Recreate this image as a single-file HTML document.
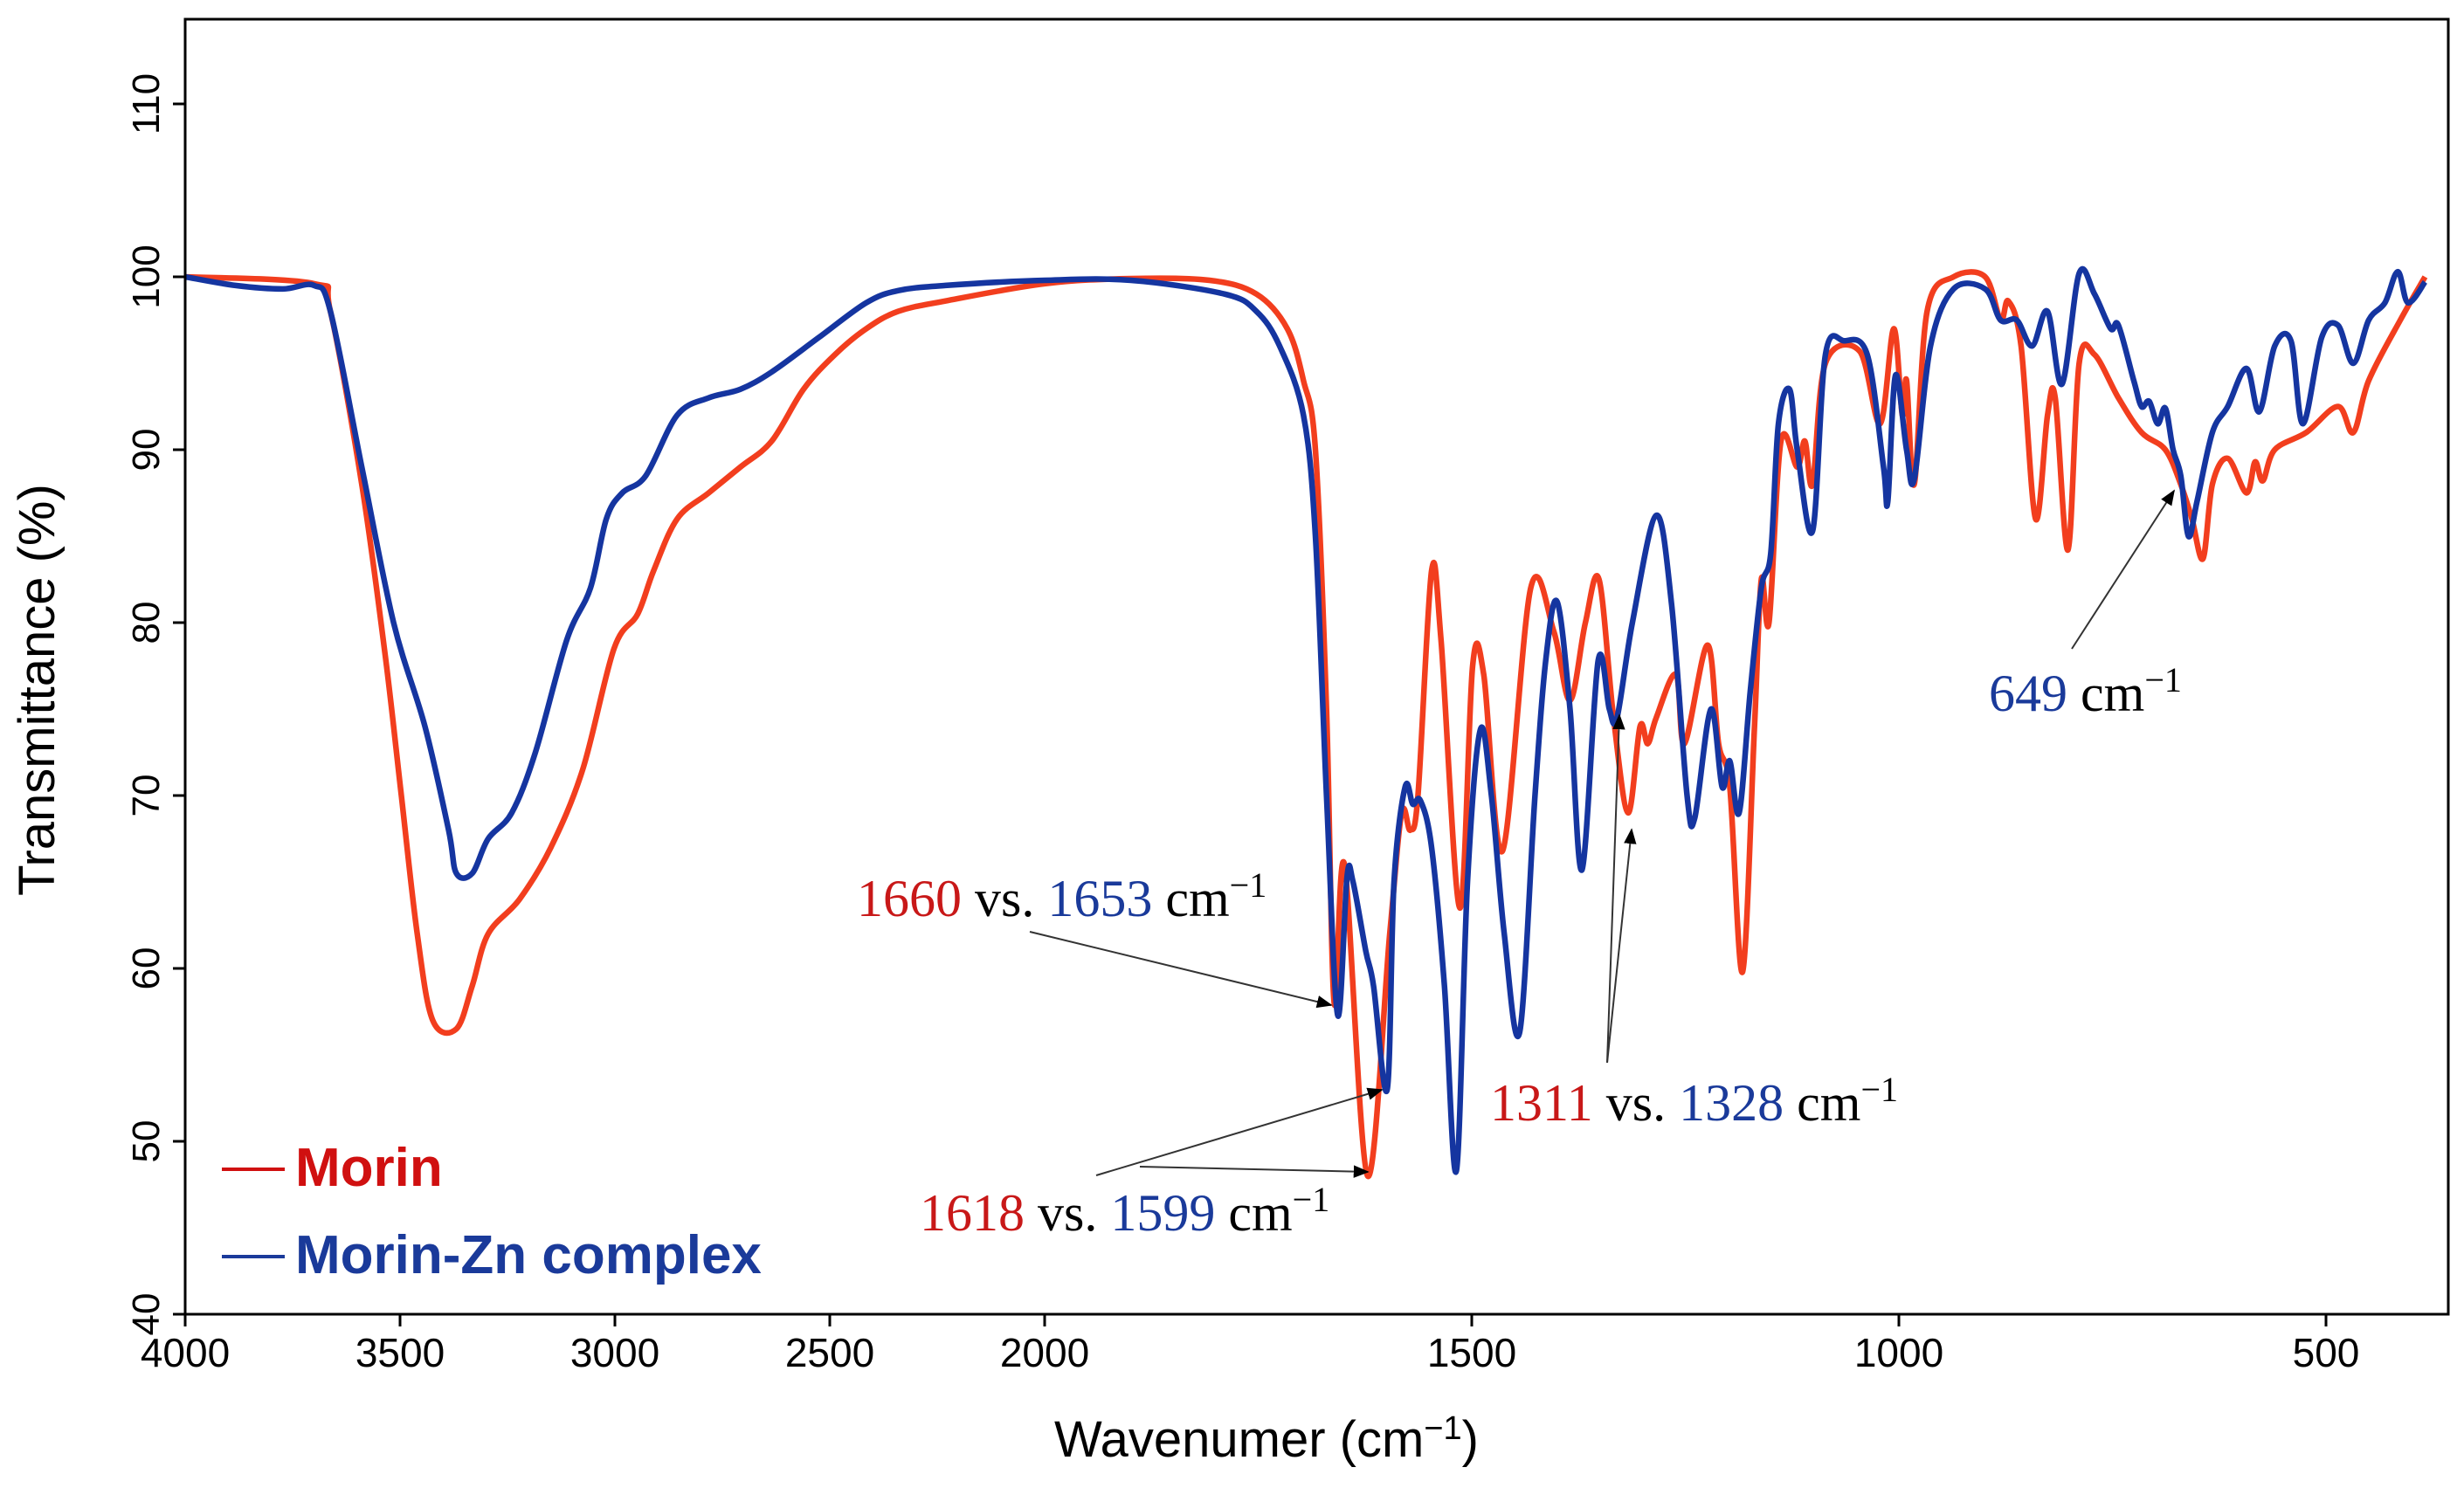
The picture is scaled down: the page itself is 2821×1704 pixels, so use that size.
<!DOCTYPE html>
<html><head><meta charset="utf-8"><style>
html,body{margin:0;padding:0;background:#fff;}
svg{display:block;}
</style></head><body>
<svg id="chart" width="2821" height="1704" xmlns="http://www.w3.org/2000/svg">
<g id="plot"></g>
</svg>
<script>
const xTicks=[4000,3500,3000,2500,2000,1500,1000,500];
const yTicks=[40,50,60,70,80,90,100,110];
const morinWn=[4000,3700,3662,3589,3534,3497,3460,3424,3369,3332,3295,3222,3149,3075,3002,2947,2910,2855,2782,2708,2635,2561,2488,2415,2341,2231,2000,1899,1807,1752,1716,1697,1683,1670,1661,1649,1622,1596,1582,1572,1563,1547,1536,1514,1499,1486,1464,1431,1404,1385,1367,1351,1334,1317,1303,1294,1284,1261,1251,1224,1211,1198,1183,1169,1161,1152,1138,1119,1110,1101,1086,1046,1022,1006,996,991,982,967,936,899,881,872,857,840,826,817,802,789,771,743,716,688,670,657,644,633,615,593,583,574,560,523,486,468,450,413,384];
const morinT=[100,99.6,98,88,78,70,62,57,56.5,59,62,64,67,71.5,78.5,80.5,83,86,87.5,89,90.5,93.5,95.5,97,98,98.6,99.6,99.9,99.8,99,97,94,90,75,58,66,48,62,69,68,70,83,79,63.5,77.5,77,66.8,82,79.5,75.5,80,82.5,74.5,69,74,73,74.5,77,73,78.7,73,70.5,59.8,74,82.5,80,90.5,89,90.5,88,95,95.7,91.5,97,92,94,88,98,100,100,97.5,98.6,96,86,92,93,84.2,95,95.5,93,91,90,88,86,83.7,88,89.5,87.5,89.3,88.2,90,91,92.5,91,94,97.5,100];
const znWn=[4000,3883,3773,3700,3662,3589,3515,3442,3387,3369,3332,3295,3240,3185,3112,3057,3020,2983,2928,2855,2782,2708,2635,2525,2415,2341,2231,2000,1899,1789,1752,1725,1697,1683,1670,1657,1646,1639,1624,1615,1599,1591,1578,1569,1560,1547,1532,1518,1505,1490,1477,1462,1444,1426,1413,1400,1385,1371,1352,1339,1330,1312,1284,1266,1248,1239,1220,1207,1198,1187,1174,1161,1150,1141,1128,1119,1101,1086,1064,1037,1018,1013,1004,991,982,963,936,899,881,862,844,826,809,789,771,752,743,725,716,707,697,688,679,670,661,651,633,615,593,578,560,541,527,505,486,468,450,431,416,404,384];
const znT=[100,99.5,99.3,99.5,98,89,80,74,68,65.5,65.5,67.5,69,72.5,79,82,86,87.5,88.5,92,93,93.5,94.5,96.5,98.5,99.2,99.5,99.8,99.8,99,98,96,92,85,70,57.3,65.3,65,61,59,53,65,70.5,69.5,69.7,67,59,48.3,65,73.8,70,62,56.3,70,78,81.2,75,65.7,77.8,75,74.5,80,86.2,81,70,68.7,75,70.5,72,69,76,82,84,91.5,93.5,90,85.3,95.5,96.3,95.5,89,87,94.3,90,88.3,96,99.3,99.3,97.5,97.5,96,98,93.8,100.2,99,97,97.2,94,92.5,92.8,91.5,92.4,90,88.5,85,87,91,92.5,94.7,92.2,96,96.3,91.5,96.5,97.2,95,97.5,98.5,100.3,98.5,99.7];

const L=212,R=2803,T=22,B=1505;
function xs(w){return w>=2000?212+(4000-w)*0.492:1196+(2000-w)*0.978;}
function ys(v){return 1505-(v-40)*19.8;}
const NS='http://www.w3.org/2000/svg';
const g=document.getElementById('plot');
function mk(tag,attrs){const e=document.createElementNS(NS,tag);for(const k in attrs)e.setAttribute(k,attrs[k]);g.appendChild(e);return e;}

function series(wn,vals,color,name){
  const p=wn.map((w,i)=>[xs(w),ys(vals[i])]);
  let d='M'+p[0][0].toFixed(1)+','+p[0][1].toFixed(1);
  for(let i=0;i<p.length-1;i++){
    const p0=p[Math.max(0,i-1)],p1=p[i],p2=p[i+1],p3=p[Math.min(p.length-1,i+2)];
    const c1=[p1[0]+(p2[0]-p0[0])/6,p1[1]+(p2[1]-p0[1])/6];
    const c2=[p2[0]-(p3[0]-p1[0])/6,p2[1]-(p3[1]-p1[1])/6];
    d+=' C'+c1[0].toFixed(1)+','+c1[1].toFixed(1)+' '+c2[0].toFixed(1)+','+c2[1].toFixed(1)+' '+p2[0].toFixed(1)+','+p2[1].toFixed(1);
  }
  const e=mk('path',{d:d,fill:'none',stroke:color,'stroke-width':6.5,'stroke-linejoin':'round'});
  
  
}
series(morinWn,morinT,'#f23e1e','morin-line');
series(znWn,znT,'#1535a0','morin-zn-line');

const frame=mk('rect',{x:L,y:T,width:R-L,height:B-T,fill:'none',stroke:'#000','stroke-width':3});



xTicks.forEach(w=>{
  const x=xs(w);
  const t=mk('line',{x1:x,y1:B,x2:x,y2:B+14,stroke:'#000','stroke-width':3});
  
  
  const l=mk('text',{x:x,y:B+60,'text-anchor':'middle','font-family':'Liberation Sans, sans-serif','font-size':46});
  l.textContent=w;
  
  
});
yTicks.forEach(v=>{
  const y=ys(v);
  const t=mk('line',{x1:L-14,y1:y,x2:L,y2:y,stroke:'#000','stroke-width':3});
  
  
  const l=mk('text',{x:182,y:y,'text-anchor':'middle','font-family':'Liberation Sans, sans-serif','font-size':44,transform:'rotate(-90 182 '+y+')'});
  l.textContent=v;
  
  
});
</script>
<svg style="position:absolute;left:0;top:0" width="2821" height="1704" xmlns="http://www.w3.org/2000/svg">
<defs><marker id="ah2" viewBox="0 0 10 10" refX="9" refY="5" markerWidth="9" markerHeight="9" orient="auto"><path d="M0,1 L10,5 L0,9 z" fill="#000"/></marker></defs>
<text x="62" y="790" text-anchor="middle" font-family="Liberation Sans, sans-serif" font-size="58" transform="rotate(-90 62 790)">Transmittance (%)</text>
<text x="1450" y="1668" text-anchor="middle" font-family="Liberation Sans, sans-serif" font-size="58">Wavenumer (cm<tspan dy="-20" font-size="38">−1</tspan><tspan dy="20">)</tspan></text>
<g font-family="Liberation Serif, serif" font-size="60">
<text x="981" y="1049"><tspan fill="#c81818">1660</tspan> vs. <tspan fill="#1a3a9a">1653</tspan> cm<tspan dy="-22" font-size="40">−1</tspan></text>
<text x="1053" y="1409"><tspan fill="#c81818">1618</tspan> vs. <tspan fill="#1a3a9a">1599</tspan> cm<tspan dy="-22" font-size="40">−1</tspan></text>
<text x="1706" y="1283"><tspan fill="#c81818">1311</tspan> vs. <tspan fill="#1a3a9a">1328</tspan> cm<tspan dy="-22" font-size="40">−1</tspan></text>
<text x="2277" y="814"><tspan fill="#1a3a9a">649</tspan> cm<tspan dy="-22" font-size="40">−1</tspan></text>
</g>
<g stroke="#333" stroke-width="2" fill="none" marker-end="url(#ah2)">
<line x1="1179" y1="1067" x2="1524" y2="1151"/>
<line x1="1255" y1="1346" x2="1582" y2="1248"/>
<line x1="1305" y1="1336" x2="1566" y2="1342"/>
<line x1="1840" y1="1217" x2="1854" y2="819"/>
<line x1="1840" y1="1217" x2="1868" y2="950"/>
<line x1="2372" y1="743" x2="2489" y2="562"/>
</g>
<g font-family="Liberation Sans, sans-serif" font-weight="bold" font-size="62">
<line x1="254" y1="1339" x2="326" y2="1339" stroke="#d01010" stroke-width="4"/>
<text x="338" y="1358" fill="#d01010">Morin</text>
<line x1="254" y1="1439" x2="326" y2="1439" stroke="#1a3a9a" stroke-width="4"/>
<text x="338" y="1458" fill="#1a3a9a">Morin-Zn complex</text>
</g>
</svg>
</body></html>
